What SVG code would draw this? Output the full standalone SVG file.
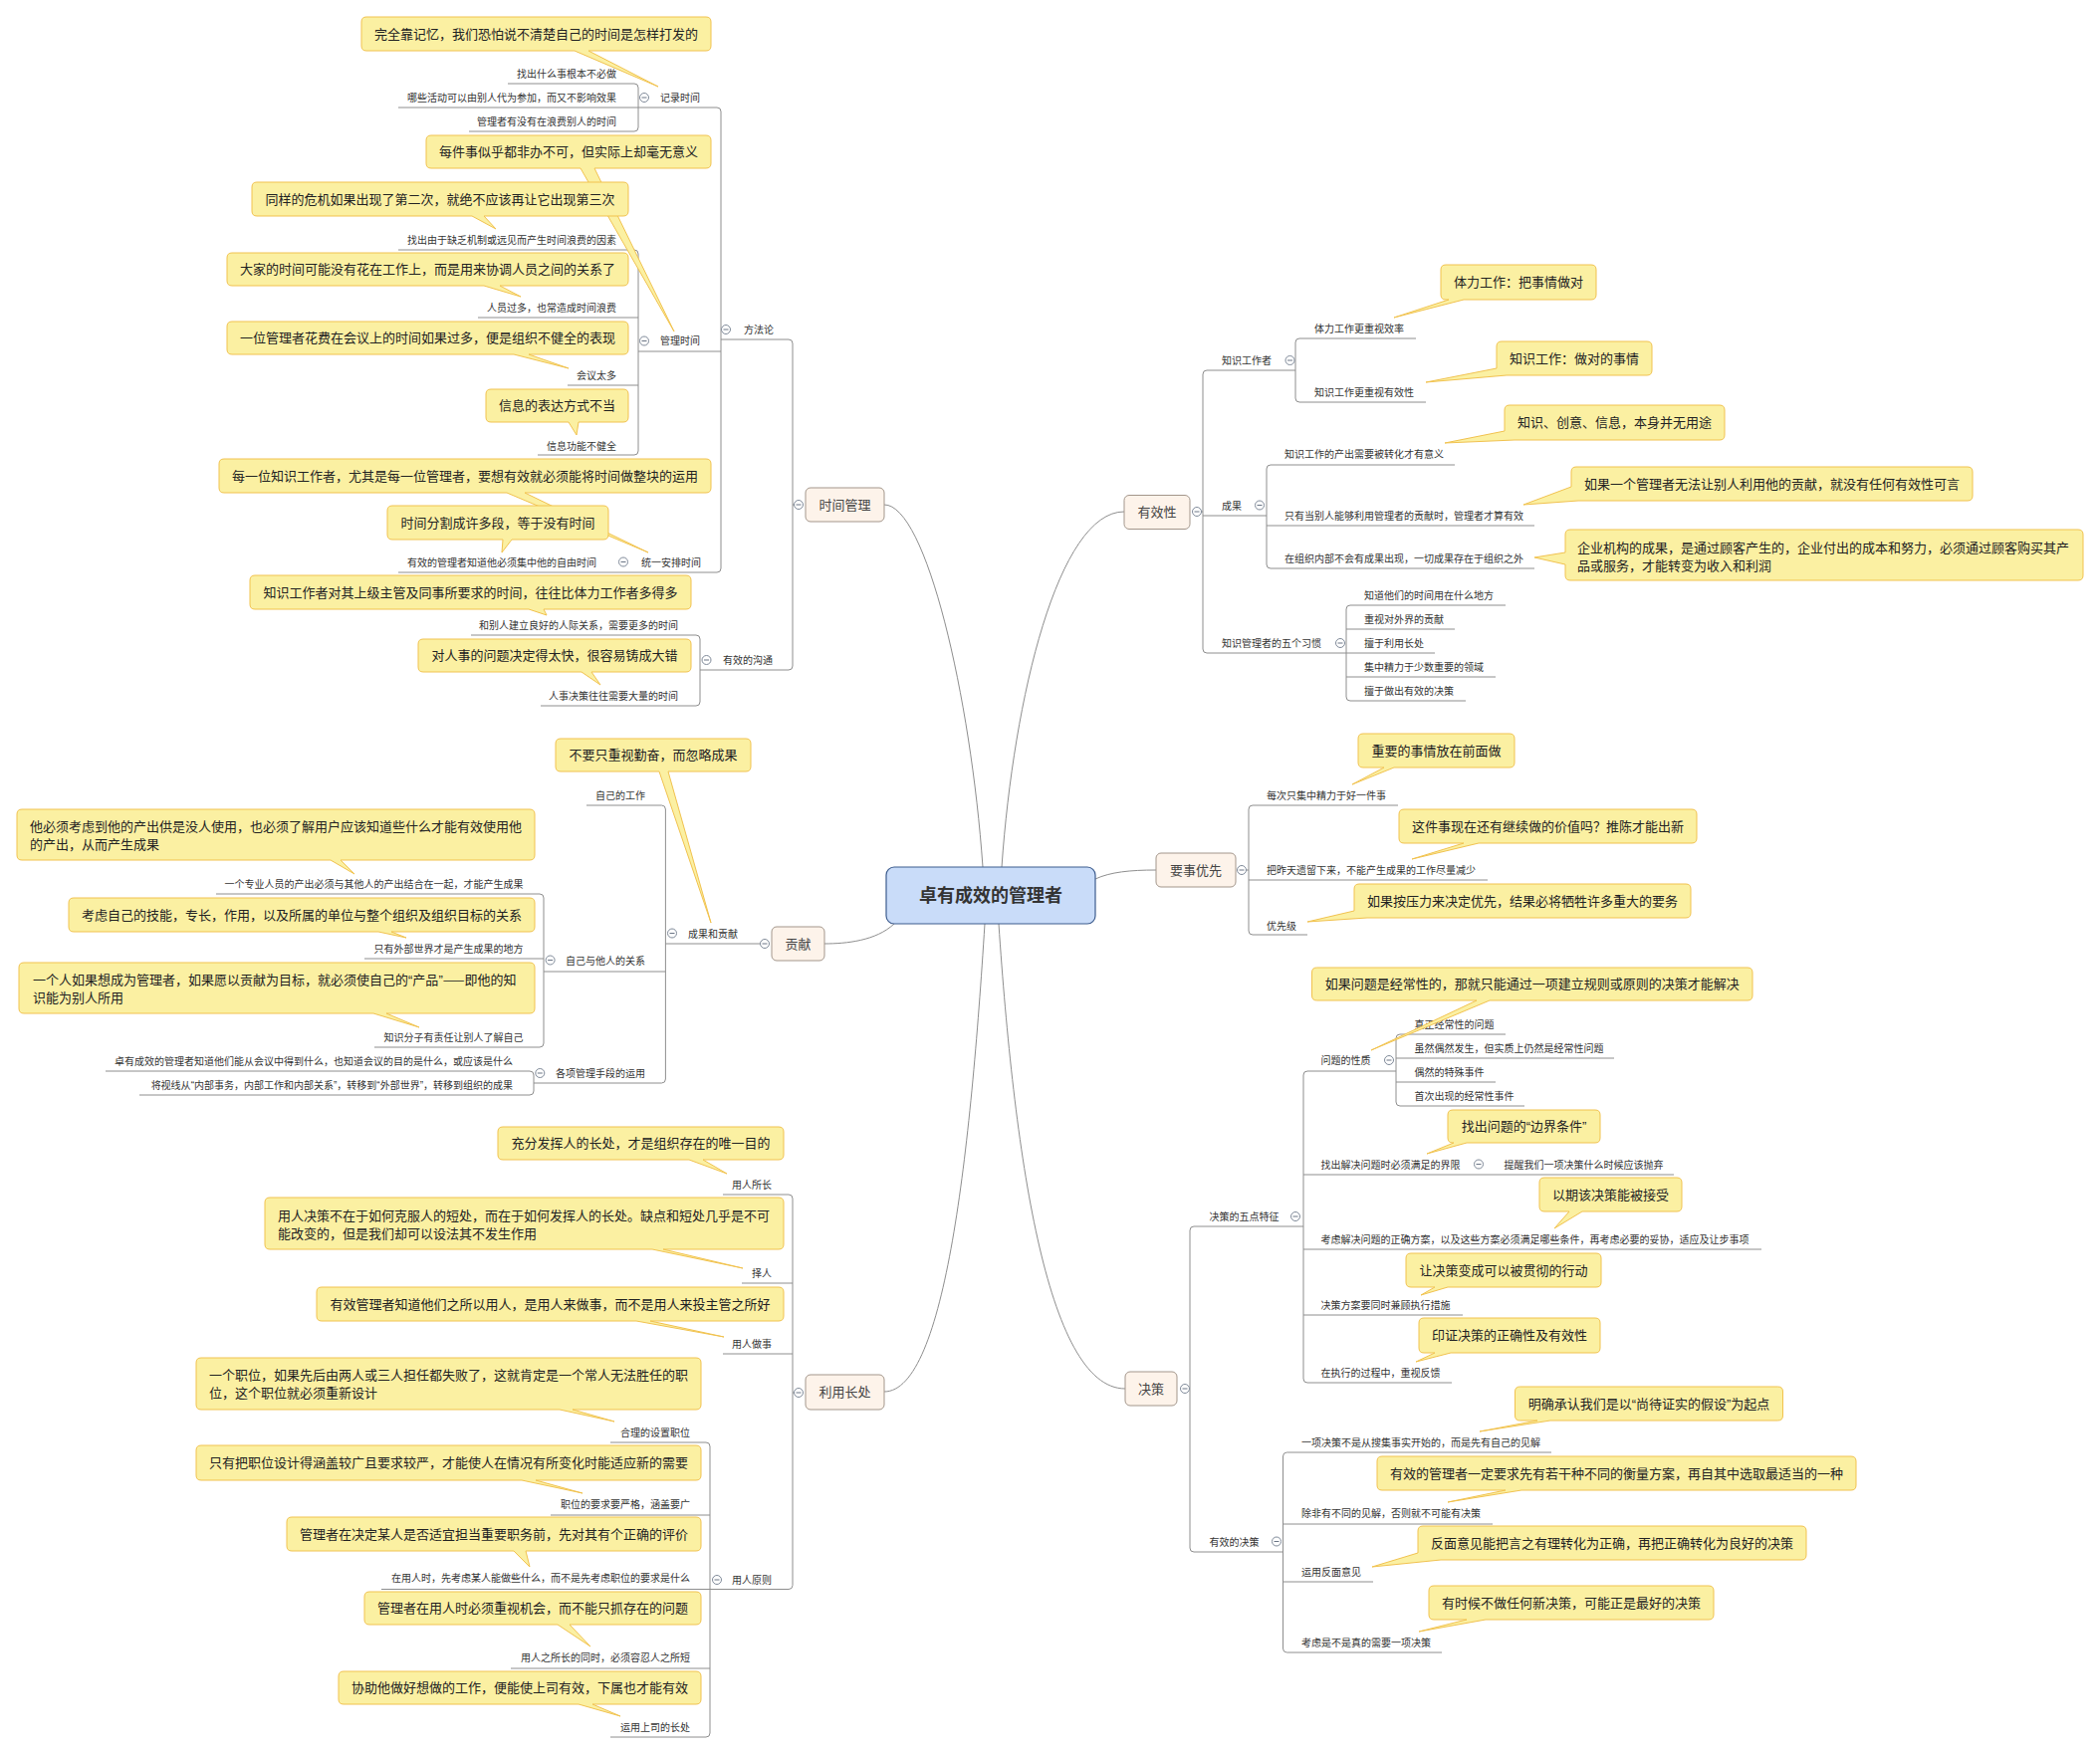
<svg xmlns="http://www.w3.org/2000/svg" width="2109" height="1761" viewBox="0 0 2109 1761">
<style>
text{font-family:"Noto Sans CJK SC","Noto Sans",sans-serif;fill:#333}
.q{font-family:"Liberation Sans","Noto Sans CJK SC",sans-serif}
.s{font-size:10px}
.e{text-anchor:end}
.ln{fill:none;stroke:#8e8e8e;stroke-width:1}
.cl path{fill:#fbf0a2;stroke:#f1c24f;stroke-width:1}
.cl text{font-size:13px;fill:#222}
.cl .c{text-anchor:middle}
.mn rect{fill:#fdf3ea;stroke:#a3968b;stroke-width:1}
.mn text{font-size:13px;fill:#444;text-anchor:middle}
</style>
<defs>
<g id="btn"><circle r="4.5" fill="#fff" stroke="#7f8a99" stroke-width="1"/><path d="M-2.5 0H2.5" stroke="#6a7585" stroke-width="1"/></g>
</defs>
<rect width="2109" height="1761" fill="#fff"/>

<g id="connectors" class="ln">
<path d="M987 871C975 700 930 507 888 507"/>
<path d="M1006 871C1018 700 1063 514 1129 514"/>
<path d="M1100 883C1115 876 1135 874 1161 874"/>
<path d="M898 928C880 945 850 948 828 948"/>
<path d="M989 928C975 1150 950 1398 888 1398"/>
<path d="M1003 928C1018 1150 1050 1395 1130 1395"/>
<path d="M510 84H637Q641 84 641 88V128Q641 132 637 132H471"/>
<path d="M400 108H720Q724 108 724 112V571Q724 575 720 575H400"/>
<path d="M641 353H724"/>
<path d="M400 251H637Q641 251 641 255V453Q641 457 637 457H540"/>
<path d="M480 319H641M570 387H641"/>
<path d="M724 341H792Q796 341 796 345V669Q796 673 792 673H703"/>
<path d="M473 638H699Q703 638 703 642V705Q703 709 699 709H543"/>
<path d="M796 507H798"/>
<path d="M1301 372H1212Q1208 372 1208 376V652Q1208 656 1212 656H1441"/>
<path d="M1208 518H1272M1206 514H1208"/>
<path d="M1422 340H1305Q1301 340 1301 344V400Q1301 404 1305 404H1432"/>
<path d="M1461 467H1276Q1272 467 1272 471V567Q1272 571 1276 571H1541"/>
<path d="M1272 528H1541"/>
<path d="M1512 608H1356Q1352 608 1352 612V700Q1352 704 1356 704H1472"/>
<path d="M1352 632H1461M1352 680H1502"/>
<path d="M1404 809H1258Q1254 809 1254 813V935Q1254 939 1258 939H1313"/>
<path d="M1254 884H1494M1251 874H1254"/>
<path d="M1309 1232H1199Q1195 1232 1195 1236V1555Q1195 1559 1199 1559H1288.5"/>
<path d="M1402 1076H1313Q1309 1076 1309 1080V1385Q1309 1389 1313 1389H1458"/>
<path d="M1309 1180H1681M1309 1255H1769M1309 1321H1469"/>
<path d="M1512 1039H1406Q1402 1039 1402 1043V1107Q1402 1111 1406 1111H1531"/>
<path d="M1402 1063H1621M1402 1087H1502"/>
<path d="M1558 1459H1292.5Q1288.5 1459 1288.5 1463V1656Q1288.5 1660 1292.5 1660H1448"/>
<path d="M1288.5 1531H1499M1288.5 1589H1379"/>
<path d="M589 809H664.4Q668.4 809 668.4 813V1084Q668.4 1088 664.4 1088H536"/>
<path d="M668.4 948H763.5M546 976H668.4"/>
<path d="M217 898H542Q546 898 546 902V1048Q546 1052 542 1052H376"/>
<path d="M366 963H546"/>
<path d="M106 1076H532Q536 1076 536 1080V1096Q536 1100 532 1100H140"/>
<path d="M726 1200H792Q796 1200 796 1204V1592.5Q796 1596.5 792 1596.5H383"/>
<path d="M745 1289H796M726 1360H796M796 1399H797.5"/>
<path d="M613 1449H709Q713 1449 713 1453V1741Q713 1745 709 1745H613"/>
<path d="M553 1522H713M513 1676H713"/>
</g>

<g id="root">
<rect x="890" y="871" width="210" height="57" rx="8" fill="#c9dcf9" stroke="#3d5c8e" stroke-width="1.2"/>
<text x="995" y="906" font-size="18" font-weight="bold" fill="#3a3a3a" text-anchor="middle">卓有成效的管理者</text>
</g>

<g id="n-time" class="mn"><rect x="809" y="490" width="79" height="34" rx="5"/><text x="848.5" y="512">时间管理</text><use href="#btn" x="802" y="507"/></g>
<g id="n-eff" class="mn"><rect x="1129" y="497.5" width="66" height="34" rx="5"/><text x="1162" y="519">有效性</text><use href="#btn" x="1202" y="514"/></g>
<g id="n-first" class="mn"><rect x="1161" y="857" width="80" height="34" rx="5"/><text x="1201" y="878.5">要事优先</text><use href="#btn" x="1247" y="874"/></g>
<g id="n-contrib" class="mn"><rect x="775" y="931" width="53" height="34" rx="5"/><text x="801.5" y="952.5">贡献</text><use href="#btn" x="768" y="948"/></g>
<g id="n-decide" class="mn"><rect x="1130" y="1378" width="52" height="34" rx="5"/><text x="1156" y="1399.5">决策</text><use href="#btn" x="1190" y="1395"/></g>
<g id="n-strength" class="mn"><rect x="809" y="1381" width="79" height="35" rx="5"/><text x="848.5" y="1403">利用长处</text><use href="#btn" x="802" y="1399"/></g>

<g id="time-topics" class="s">
<text x="663" y="101.5">记录时间</text><use href="#btn" x="647" y="98"/>
<text class="e" x="619" y="77.5">找出什么事根本不必做</text>
<text class="e" x="619" y="101.5">哪些活动可以由别人代为参加，而又不影响效果</text>
<text class="e" x="619" y="125.5">管理者有没有在浪费别人的时间</text>
<text x="663" y="346">管理时间</text><use href="#btn" x="647" y="342.5"/>
<text class="e" x="619" y="244.5">找出由于缺乏机制或远见而产生时间浪费的因素</text>
<text class="e" x="619" y="312.5">人员过多，也常造成时间浪费</text>
<text class="e" x="619" y="380.5">会议太多</text>
<text class="e" x="619" y="451.5">信息功能不健全</text>
<text x="644" y="568.5">统一安排时间</text><use href="#btn" x="626" y="564.5"/>
<text class="e" x="599" y="568.5">有效的管理者知道他必须集中他的自由时间</text>
<text x="747" y="335">方法论</text><use href="#btn" x="729" y="331"/>
<text x="726" y="666.5">有效的沟通</text><use href="#btn" x="709.5" y="663"/>
<text class="e" x="681" y="631.5">和别人建立良好的人际关系，需要更多的时间</text>
<text class="e" x="681" y="702.5">人事决策往往需要大量的时间</text>
</g>

<g id="eff-topics" class="s">
<text x="1227" y="366">知识工作者</text><use href="#btn" x="1295.5" y="362"/>
<text x="1320" y="333.5">体力工作更重视效率</text>
<text x="1320" y="397.5">知识工作更重视有效性</text>
<text x="1227" y="512">成果</text><use href="#btn" x="1265" y="507.5"/>
<text x="1290" y="460">知识工作的产出需要被转化才有意义</text>
<text x="1290" y="522">只有当别人能够利用管理者的贡献时，管理者才算有效</text>
<text x="1290" y="565">在组织内部不会有成果出现，一切成果存在于组织之外</text>
<text x="1227" y="649.5">知识管理者的五个习惯</text><use href="#btn" x="1346" y="646"/>
<text x="1370" y="601.8">知道他们的时间用在什么地方</text>
<text x="1370" y="625.8">重视对外界的贡献</text>
<text x="1370" y="650">擅于利用长处</text>
<text x="1370" y="673.5">集中精力于少数重要的领域</text>
<text x="1370" y="697.8">擅于做出有效的决策</text>
</g>

<g id="first-topics" class="s">
<text x="1272" y="802.8">每次只集中精力于好一件事</text>
<text x="1272" y="877.8">把昨天遗留下来，不能产生成果的工作尽量减少</text>
<text x="1272" y="933.5">优先级</text>
</g>

<g id="decide-topics" class="s">
<text x="1214.5" y="1226">决策的五点特征</text><use href="#btn" x="1301" y="1222"/>
<text x="1326.5" y="1069">问题的性质</text><use href="#btn" x="1395" y="1065"/>
<text x="1420.5" y="1032.8">真正经常性的问题</text>
<text x="1420.5" y="1056.8">虽然偶然发生，但实质上仍然是经常性问题</text>
<text x="1420.5" y="1080.8">偶然的特殊事件</text>
<text x="1420.5" y="1105.2">首次出现的经常性事件</text>
<text x="1326.5" y="1173.5">找出解决问题时必须满足的界限</text><use href="#btn" x="1485" y="1169.5"/>
<text x="1510.6" y="1173.5">提醒我们一项决策什么时候应该抛弃</text>
<text x="1326.5" y="1248.5">考虑解决问题的正确方案，以及这些方案必须满足哪些条件，再考虑必要的妥协，适应及让步事项</text>
<text x="1326.5" y="1314.5">决策方案要同时兼顾执行措施</text>
<text x="1326.5" y="1382.8">在执行的过程中，重视反馈</text>
<text x="1214.5" y="1552.5">有效的决策</text><use href="#btn" x="1282" y="1548.5"/>
<text x="1307" y="1452.8">一项决策不是从搜集事实开始的，而是先有自己的见解</text>
<text x="1307" y="1524.2">除非有不同的见解，否则就不可能有决策</text>
<text x="1307" y="1582.8">运用反面意见</text>
<text x="1307" y="1653.5">考虑是不是真的需要一项决策</text>
</g>

<g id="contrib-topics" class="s">
<text x="691" y="941.8">成果和贡献</text><use href="#btn" x="675" y="937.5"/>
<text class="e" x="648" y="802.8">自己的工作</text>
<text class="e" x="648" y="969.2">自己与他人的关系</text><use href="#btn" x="552.6" y="964.5"/>
<text class="e" x="525.5" y="891.8">一个专业人员的产出必须与其他人的产出结合在一起，才能产生成果</text>
<text class="e" x="525.5" y="956.8">只有外部世界才是产生成果的地方</text>
<text class="e" x="525.5" y="1045.8">知识分子有责任让别人了解自己</text>
<text class="e" x="648" y="1081.8">各项管理手段的运用</text><use href="#btn" x="542.3" y="1078"/>
<text class="e" x="515" y="1070.2">卓有成效的管理者知道他们能从会议中得到什么，也知道会议的目的是什么，或应该是什么</text>
<text class="e" x="515" y="1093.5">将视线从<tspan class="q">“</tspan>内部事务，内部工作和内部关系<tspan class="q">”</tspan>，转移到<tspan class="q">“</tspan>外部世界<tspan class="q">”</tspan>，转移到组织的成果</text>
</g>

<g id="strength-topics" class="s">
<text class="e" x="775" y="1193.5">用人所长</text>
<text class="e" x="775" y="1283">择人</text>
<text class="e" x="775" y="1353.5">用人做事</text>
<text class="e" x="775" y="1591">用人原则</text><use href="#btn" x="720" y="1587"/>
<text class="e" x="693" y="1443">合理的设置职位</text>
<text class="e" x="693" y="1515.2">职位的要求要严格，涵盖要广</text>
<text class="e" x="693" y="1589.2">在用人时，先考虑某人能做些什么，而不是先考虑职位的要求是什么</text>
<text class="e" x="693" y="1669.2">用人之所长的同时，必须容忍人之所短</text>
<text class="e" x="693" y="1738.5">运用上司的长处</text>
</g>

<g id="callouts" class="cl">
<g id="c1"><path d="M368 17H709Q714 17 714 22V46Q714 51 709 51H591L661 87L577 51H368Q363 51 363 46V22Q363 17 368 17Z"/><text class="c" x="538.5" y="38.5">完全靠记忆，我们恐怕说不清楚自己的时间是怎样打发的</text></g>
<g id="c2"><path d="M433 136H709Q714 136 714 141V164Q714 169 709 169H597L677 333L583 169H433Q428 169 428 164V141Q428 136 433 136Z"/><text class="c" x="571" y="157">每件事似乎都非办不可，但实际上却毫无意义</text></g>
<g id="c3"><path d="M258 183H626Q631 183 631 188V212Q631 217 626 217H486L498 230L474 217H258Q253 217 253 212V188Q253 183 258 183Z"/><text class="c" x="442" y="204.5">同样的危机如果出现了第二次，就绝不应该再让它出现第三次</text></g>
<g id="c4"><path d="M233 254H626Q631 254 631 259V282Q631 287 626 287H502L523 298L486 287H233Q228 287 228 282V259Q228 254 233 254Z"/><text class="c" x="429.5" y="275">大家的时间可能没有花在工作上，而是用来协调人员之间的关系了</text></g>
<g id="c5"><path d="M233 323H626Q631 323 631 328V351Q631 356 626 356H531L571 370L516 356H233Q228 356 228 351V328Q228 323 233 323Z"/><text class="c" x="429.5" y="344">一位管理者花费在会议上的时间如果过多，便是组织不健全的表现</text></g>
<g id="c6"><path d="M493 391H626Q631 391 631 396V419Q631 424 626 424H581L579 437L571 424H493Q488 424 488 419V396Q488 391 493 391Z"/><text class="c" x="559.5" y="412">信息的表达方式不当</text></g>
<g id="c7"><path d="M225 461H709Q714 461 714 466V490Q714 495 709 495H527L651 555L509 495H225Q220 495 220 490V466Q220 461 225 461Z"/><text class="c" x="467" y="482.5">每一位知识工作者，尤其是每一位管理者，要想有效就必须能将时间做整块的运用</text></g>
<g id="c8"><path d="M394 508H606Q611 508 611 513V537Q611 542 606 542H514L504 555L505 542H394Q389 542 389 537V513Q389 508 394 508Z"/><text class="c" x="500" y="529.5">时间分割成许多段，等于没有时间</text></g>
<g id="c9"><path d="M256 578H689Q694 578 694 583V607Q694 612 689 612H546L549 618L531 612H256Q251 612 251 607V583Q251 578 256 578Z"/><text class="c" x="472.5" y="599.5">知识工作者对其上级主管及同事所要求的时间，往往比体力工作者多得多</text></g>
<g id="c10"><path d="M425 642H689Q694 642 694 647V670Q694 675 689 675H594L603 688L584 675H425Q420 675 420 670V647Q420 642 425 642Z"/><text class="c" x="557" y="663">对人事的问题决定得太快，很容易铸成大错</text></g>
<g id="c11"><path d="M1452 266H1598Q1603 266 1603 271V296Q1603 301 1598 301H1470L1400 319L1455 301H1452Q1447 301 1447 296V271Q1447 266 1452 266Z"/><text class="c" x="1525" y="288">体力工作：把事情做对</text></g>
<g id="c12"><path d="M1508 343H1654Q1659 343 1659 348V372Q1659 377 1654 377H1513L1432 384L1503 370V348Q1503 343 1508 343Z"/><text class="c" x="1581" y="364.5">知识工作：做对的事情</text></g>
<g id="c13"><path d="M1516 407H1727Q1732 407 1732 412V437Q1732 442 1727 442H1521L1451 445L1511 433V412Q1511 407 1516 407Z"/><text class="c" x="1621.5" y="429">知识、创意、信息，本身并无用途</text></g>
<g id="c14"><path d="M1583 469H1976Q1981 469 1981 474V498Q1981 503 1976 503H1585L1530 507L1578 489V474Q1578 469 1583 469Z"/><text class="c" x="1779.5" y="490.5">如果一个管理者无法让别人利用他的贡献，就没有任何有效性可言</text></g>
<g id="c15"><path d="M1577 532H2087Q2092 532 2092 537V578Q2092 583 2087 583H1577Q1572 583 1572 578V567L1541 560L1572 555V537Q1572 532 1577 532Z"/><text x="1584" y="554.5">企业机构的成果，是通过顾客产生的，企业付出的成本和努力，必须通过顾客购买其产</text><text x="1584" y="572.8">品或服务，才能转变为收入和利润</text></g>
<g id="c16"><path d="M1369 737H1516Q1521 737 1521 742V766Q1521 771 1516 771H1400L1358 788L1390 771H1369Q1364 771 1364 766V742Q1364 737 1369 737Z"/><text class="c" x="1442.5" y="758.5">重要的事情放在前面做</text></g>
<g id="c17"><path d="M1410 813H1699Q1704 813 1704 818V842Q1704 847 1699 847H1485L1418 863L1470 847H1410Q1405 847 1405 842V818Q1405 813 1410 813Z"/><text class="c" x="1554.5" y="834.5">这件事现在还有继续做的价值吗？推陈才能出新</text></g>
<g id="c18"><path d="M1365 888H1693Q1698 888 1698 893V917Q1698 922 1693 922H1373L1313 926L1360 915V893Q1360 888 1365 888Z"/><text class="c" x="1529" y="909.5">如果按压力来决定优先，结果必将牺牲许多重大的要务</text></g>
<g id="c19"><path d="M1322.5 972H1755Q1760 972 1760 977V1000Q1760 1005 1755 1005H1496L1377 1055L1483 1005H1322.5Q1317.5 1005 1317.5 1000V977Q1317.5 972 1322.5 972Z"/><text class="c" x="1538.75" y="993">如果问题是经常性的，那就只能通过一项建立规则或原则的决策才能解决</text></g>
<g id="c20"><path d="M1459 1115H1602Q1607 1115 1607 1120V1143Q1607 1148 1602 1148H1473L1433 1159L1460 1148H1459Q1454 1148 1454 1143V1120Q1454 1115 1459 1115Z"/><text class="c" x="1530.5" y="1136">找出问题的<tspan class="q">“</tspan>边界条件<tspan class="q">”</tspan></text></g>
<g id="c21"><path d="M1551 1183H1684Q1689 1183 1689 1188V1212Q1689 1217 1684 1217H1589L1561 1234L1576 1217H1551Q1546 1217 1546 1212V1188Q1546 1183 1551 1183Z"/><text class="c" x="1617.5" y="1204.5">以期该决策能被接受</text></g>
<g id="c22"><path d="M1417 1259H1603Q1608 1259 1608 1264V1288Q1608 1293 1603 1293H1454L1427 1301L1441 1293H1417Q1412 1293 1412 1288V1264Q1412 1259 1417 1259Z"/><text class="c" x="1510" y="1280.5">让决策变成可以被贯彻的行动</text></g>
<g id="c23"><path d="M1430 1324H1602Q1607 1324 1607 1329V1354Q1607 1359 1602 1359H1457L1422 1368L1441 1359H1430Q1425 1359 1425 1354V1329Q1425 1324 1430 1324Z"/><text class="c" x="1516" y="1346">印证决策的正确性及有效性</text></g>
<g id="c24"><path d="M1526.5 1393H1785.5Q1790.5 1393 1790.5 1398V1422Q1790.5 1427 1785.5 1427H1557L1486 1438L1544 1427H1526.5Q1521.5 1427 1521.5 1422V1398Q1521.5 1393 1526.5 1393Z"/><text class="c" x="1656" y="1414.5">明确承认我们是以<tspan class="q">“</tspan>尚待证实的假设<tspan class="q">”</tspan>为起点</text></g>
<g id="c25"><path d="M1388 1463H1859Q1864 1463 1864 1468V1492Q1864 1497 1859 1497H1528L1454 1509L1512 1497H1388Q1383 1497 1383 1492V1468Q1383 1463 1388 1463Z"/><text class="c" x="1623.5" y="1484.5">有效的管理者一定要求先有若干种不同的衡量方案，再自其中选取最适当的一种</text></g>
<g id="c26"><path d="M1429 1533H1809Q1814 1533 1814 1538V1562Q1814 1567 1809 1567H1447L1378 1574L1424 1560V1538Q1424 1533 1429 1533Z"/><text class="c" x="1619" y="1554.5">反面意见能把言之有理转化为正确，再把正确转化为良好的决策</text></g>
<g id="c27"><path d="M1440 1593H1716Q1721 1593 1721 1598V1622Q1721 1627 1716 1627H1492L1425 1639L1473 1627H1440Q1435 1627 1435 1622V1598Q1435 1593 1440 1593Z"/><text class="c" x="1578" y="1614.5">有时候不做任何新决策，可能正是最好的决策</text></g>
<g id="c28"><path d="M563 742H749Q754 742 754 747V770Q754 775 749 775H671L714 927L662 775H563Q558 775 558 770V747Q558 742 563 742Z"/><text class="c" x="656" y="763">不要只重视勤奋，而忽略成果</text></g>
<g id="c29"><path d="M22 813H532Q537 813 537 818V859Q537 864 532 864H342L356 878L332 864H22Q17 864 17 859V818Q17 813 22 813Z"/><text x="30" y="834.5">他必须考虑到他的产出供是没人使用，也必须了解用户应该知道些什么才能有效使用他</text><text x="30" y="852.8">的产出，从而产生成果</text></g>
<g id="c30"><path d="M74 902H532Q537 902 537 907V931Q537 936 532 936H393L408 942L380 936H74Q69 936 69 931V907Q69 902 74 902Z"/><text class="c" x="303" y="923.5">考虑自己的技能，专长，作用，以及所属的单位与整个组织及组织目标的关系</text></g>
<g id="c31"><path d="M24 967H532Q537 967 537 972V1013Q537 1018 532 1018H388L421 1032L375 1018H24Q19 1018 19 1013V972Q19 967 24 967Z"/><text x="33" y="988.8">一个人如果想成为管理者，如果愿以贡献为目标，就必须使自己的<tspan class="q">“</tspan>产品<tspan class="q">”</tspan>——即他的知</text><text x="33" y="1007.2">识能为别人所用</text></g>
<g id="c32"><path d="M505 1132H782Q787 1132 787 1137V1160Q787 1165 782 1165H706L730 1179L692 1165H505Q500 1165 500 1160V1137Q500 1132 505 1132Z"/><text class="c" x="643.5" y="1153">充分发挥人的长处，才是组织存在的唯一目的</text></g>
<g id="c33"><path d="M271 1203H782Q787 1203 787 1208V1250Q787 1255 782 1255H666L746 1274L655 1255H271Q266 1255 266 1250V1208Q266 1203 271 1203Z"/><text x="279" y="1226.2">用人决策不在于如何克服人的短处，而在于如何发挥人的长处。缺点和短处几乎是不可</text><text x="279" y="1243.8">能改变的，但是我们却可以设法其不发生作用</text></g>
<g id="c34"><path d="M323 1293H782Q787 1293 787 1298V1322Q787 1327 782 1327H653L727 1343L639 1327H323Q318 1327 318 1322V1298Q318 1293 323 1293Z"/><text class="c" x="552.5" y="1314.5">有效管理者知道他们之所以用人，是用人来做事，而不是用人来投主管之所好</text></g>
<g id="c35"><path d="M202 1364H699Q704 1364 704 1369V1411Q704 1416 699 1416H575L617 1428L562 1416H202Q197 1416 197 1411V1369Q197 1364 202 1364Z"/><text x="210" y="1386.2">一个职位，如果先后由两人或三人担任都失败了，这就肯定是一个常人无法胜任的职</text><text x="210" y="1403.8">位，这个职位就必须重新设计</text></g>
<g id="c36"><path d="M202 1452H699Q704 1452 704 1457V1482Q704 1487 699 1487H538L585 1500L524 1487H202Q197 1487 197 1482V1457Q197 1452 202 1452Z"/><text class="c" x="450.5" y="1474">只有把职位设计得涵盖较广且要求较严，才能使人在情况有所变化时能适应新的需要</text></g>
<g id="c37"><path d="M293 1524H699Q704 1524 704 1529V1553Q704 1558 699 1558H528L532 1574L516 1558H293Q288 1558 288 1553V1529Q288 1524 293 1524Z"/><text class="c" x="496" y="1545.5">管理者在决定某人是否适宜担当重要职务前，先对其有个正确的评价</text></g>
<g id="c38"><path d="M371 1599H699Q704 1599 704 1604V1627Q704 1632 699 1632H572L593 1654L560 1632H371Q366 1632 366 1627V1604Q366 1599 371 1599Z"/><text class="c" x="535" y="1620">管理者在用人时必须重视机会，而不能只抓存在的问题</text></g>
<g id="c39"><path d="M345 1679H699Q704 1679 704 1684V1707Q704 1712 699 1712H595L623 1724L581 1712H345Q340 1712 340 1707V1684Q340 1679 345 1679Z"/><text class="c" x="522" y="1700">协助他做好想做的工作，便能使上司有效，下属也才能有效</text></g>
</g>
</svg>
